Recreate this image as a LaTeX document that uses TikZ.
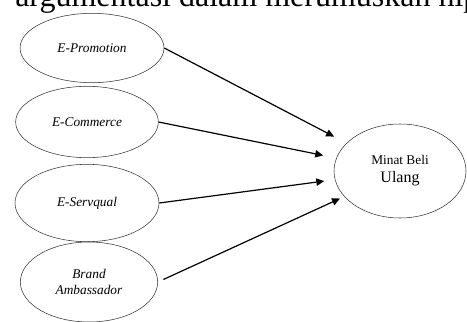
\documentclass[tikz,border=0pt]{standalone}
\usepackage{fontspec}
\setmainfont{Liberation Serif}
\usetikzlibrary{shapes.geometric, arrows.meta, positioning}

\begin{document}
\begin{tikzpicture}[x=0.75pt,y=-0.75pt,
  variabel/.style={draw=black!80, ellipse, inner sep=0pt, align=center,
    font=\fontsize{10}{12}\selectfont\itshape},
  panah/.style={-{Triangle[length=6pt,width=5.5pt]}, line width=0.9pt}]
  \useasboundingbox (0,0) rectangle (467,321);
  \clip (0,0) rectangle (467,321);

  % Teks di atas gambar
  \node[anchor=base west, inner sep=0pt, font=\fontsize{24}{26}\selectfont] (judul) at (15,7) {argumentasi dalam merumuskan hip};

  % Variabel bebas
  \node[variabel, minimum width=108pt, minimum height=52pt] (ep) at (92,48) {E-Promotion};
  \node[variabel, minimum width=107pt, minimum height=53.5pt] (ec) at (87,122) {E-Commerce};
  \node[variabel, minimum width=108pt, minimum height=58pt] (es) at (87,203) {E-Servqual};
  \node[variabel, minimum width=103pt, minimum height=60pt] (ba) at (89,282) {Brand\\Ambassador};

  % Variabel terikat
  \node[variabel, minimum width=99pt, minimum height=70.5pt, font=\fontsize{10}{13.5}\selectfont] (mbu) at (400,171) {Minat Beli\\{\fontsize{12}{14}\selectfont Ulang}};

  % Panah
  \draw[panah, shorten >=10.5pt] (ep.east) -- (mbu);
  \draw[panah, shorten >=10pt] (ec.east) -- (mbu);
  \draw[panah, shorten >=8pt] (es.east) -- (mbu);
  \draw[panah, shorten <=4.5pt, shorten >=3.5pt] (ba.east) -- (mbu);

\end{tikzpicture}
\end{document}
